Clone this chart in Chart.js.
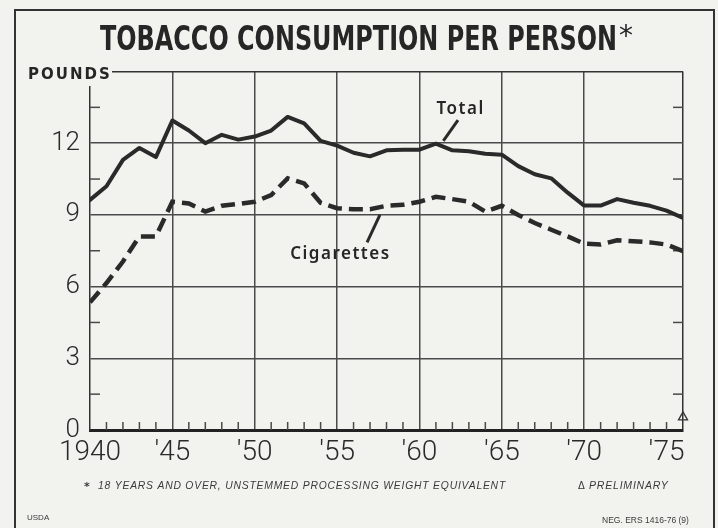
<!DOCTYPE html>
<html><head><meta charset="utf-8">
<script src="https://cdn.jsdelivr.net/npm/chart.js@4.4.1/dist/chart.umd.min.js"></script>
<style>
html,body{margin:0;padding:0;background:#f2f2ee;}
#wrap{position:relative;width:718px;height:528px;overflow:hidden;}
canvas{display:block;}
</style>
</head><body>
<div id="wrap"><canvas id="c" width="718" height="528"></canvas></div>
<script>
// ---- data ----
const years = [1940,1941,1942,1943,1944,1945,1946,1947,1948,1949,1950,1951,1952,1953,1954,1955,1956,1957,1958,1959,1960,1961,1962,1963,1964,1965,1966,1967,1968,1969,1970,1971,1972,1973,1974,1975,1976];
const totalValues = [9.63,10.2,11.3,11.8,11.42,12.95,12.53,12.0,12.35,12.15,12.28,12.53,13.1,12.83,12.1,11.9,11.6,11.45,11.7,11.73,11.73,11.98,11.7,11.66,11.56,11.52,11.04,10.7,10.53,9.93,9.39,9.39,9.66,9.51,9.38,9.18,8.87];
const cigaretteValues = [5.34,6.15,7.05,8.1,8.1,9.55,9.48,9.14,9.38,9.46,9.55,9.83,10.53,10.32,9.51,9.28,9.24,9.24,9.38,9.42,9.55,9.76,9.66,9.55,9.14,9.38,9.0,8.66,8.38,8.1,7.8,7.76,7.94,7.9,7.85,7.76,7.48];
const yTickValues = [0,3,6,9,12];
const xTickYears = [1940,1945,1950,1955,1960,1965,1970,1975];
const xTickText = ['1940',"'45","'50","'55","'60","'65","'70","'75"];
const seriesNames = ['Total','Cigarettes'];
const titleText = 'TOBACCO CONSUMPTION PER PERSON';
const unitText = 'POUNDS';
const footnoteText = '18 YEARS AND OVER, UNSTEMMED PROCESSING WEIGHT EQUIVALENT';
const prelimText = 'PRELIMINARY';
const sourceText = 'USDA';
const negText = 'NEG. ERS 1416-76 (9)';

const INK = '#2a2a2a';
const GRID = '#4a4a4a';
const BG = '#f2f2ee';

const decorPlugin = {
  id: 'decor',
  beforeDraw(chart) {
    const c = chart.ctx;
    c.save();
    c.fillStyle = BG;
    c.fillRect(0, 0, chart.width, chart.height);
    c.restore();
  },
  beforeDatasetsDraw(chart) {
    const c = chart.ctx, xs = chart.scales.x, ys = chart.scales.y, a = chart.chartArea;
    c.save();
    c.strokeStyle = GRID; c.lineWidth = 1.5;
    for (let v = 1.5; v < 15; v += 3) {
      const py = ys.getPixelForValue(v);
      c.beginPath(); c.moveTo(a.left, py); c.lineTo(a.left + 10, py); c.stroke();
      c.beginPath(); c.moveTo(a.right, py); c.lineTo(a.right - 10, py); c.stroke();
    }
    for (let yr = 1941; yr <= 1975; yr++) {
      if (yr % 5 === 0 && yr !== 1975) continue;
      const px = xs.getPixelForValue(yr);
      c.beginPath(); c.moveTo(px, a.bottom); c.lineTo(px, a.bottom - 8); c.stroke();
    }
    c.restore();
  },
  afterDraw(chart) {
    const c = chart.ctx, xs = chart.scales.x, ys = chart.scales.y;
    c.save();
    c.strokeStyle = '#333'; c.lineWidth = 2;
    c.strokeRect(15, 10, 699, 540);
    c.fillStyle = '#262626';
    c.textBaseline = 'alphabetic'; c.textAlign = 'left';
    c.font = 'bold 34px "DejaVu Sans Condensed", "DejaVu Sans"';
    c.fillText(titleText, 100, 50, 517);
    c.font = '28px "DejaVu Sans"';
    c.fillText('*', 619, 45);
    c.fillStyle = BG;
    c.fillRect(18, 62, 94, 24);
    c.fillStyle = '#262626';
    c.font = 'bold 15px "DejaVu Sans"';
    c.letterSpacing = '2px';
    c.textBaseline = 'middle';
    c.fillText(unitText, 28, 75, 84);
    c.letterSpacing = '0px';
    c.font = '600 17px "Noto Sans", "DejaVu Sans"';
    c.letterSpacing = '1.5px';
    c.textAlign = 'center';
    c.fillText(seriesNames[0], xs.getPixelForValue(1962.5), ys.getPixelForValue(13.43));
    c.fillText(seriesNames[1], xs.getPixelForValue(1955.2), ys.getPixelForValue(7.36));
    c.letterSpacing = '0px';
    c.strokeStyle = INK; c.lineWidth = 3; c.lineCap = 'butt';
    c.beginPath();
    c.moveTo(xs.getPixelForValue(1962.34), ys.getPixelForValue(12.97));
    c.lineTo(xs.getPixelForValue(1961.45), ys.getPixelForValue(12.1));
    c.stroke();
    c.beginPath();
    c.moveTo(xs.getPixelForValue(1957.6), ys.getPixelForValue(9.0));
    c.lineTo(xs.getPixelForValue(1956.82), ys.getPixelForValue(7.85));
    c.stroke();
    const tx = xs.getPixelForValue(1976), ty = ys.getPixelForValue(0.55);
    c.lineWidth = 1.3; c.strokeStyle = '#333';
    c.beginPath(); c.moveTo(tx, ty - 5); c.lineTo(tx - 4.5, ty + 3); c.lineTo(tx + 4.5, ty + 3); c.closePath(); c.stroke();
    c.fillStyle = '#3a3a3a';
    c.textAlign = 'left'; c.textBaseline = 'middle';
    c.font = 'bold 11px "DejaVu Sans"';
    c.fillText('*', 84, 487);
    c.font = 'italic 10.5px "Liberation Sans", Arial';
    c.letterSpacing = '0.8px';
    c.fillText(footnoteText, 98, 486, 408);
    c.font = '10px "DejaVu Sans"';
    c.letterSpacing = '0px';
    c.fillText('\u0394', 578, 486);
    c.font = 'italic 10.5px "Liberation Sans", Arial';
    c.letterSpacing = '0.8px';
    c.fillText(prelimText, 589, 486, 88);
    c.letterSpacing = '0px';
    c.font = '8px "Liberation Sans Narrow", "Liberation Sans"';
    c.fillText(sourceText, 27, 518);
    c.font = '8.5px "Liberation Sans Narrow", "Liberation Sans"';
    c.fillText(negText, 602, 521, 103);
    c.restore();
  }
};

const toPoints = vals => years.map((yr, i) => ({ x: yr, y: vals[i] }));

new Chart(document.getElementById('c'), {
  type: 'line',
  data: {
    datasets: [
      { label: seriesNames[0], data: toPoints(totalValues), borderColor: INK, borderWidth: 4,
        pointRadius: 0, tension: 0, borderJoinStyle: 'round', borderCapStyle: 'round', fill: false },
      { label: seriesNames[1], data: toPoints(cigaretteValues), borderColor: INK, borderWidth: 4.5,
        borderDash: [14, 7], pointRadius: 0, tension: 0, borderJoinStyle: 'miter', fill: false }
    ]
  },
  options: {
    responsive: false,
    animation: false,
    devicePixelRatio: 1,
    layout: { padding: { left: 0, top: 71.5, right: 35, bottom: 0 } },
    plugins: { legend: { display: false }, tooltip: { enabled: false }, title: { display: false } },
    scales: {
      x: {
        type: 'linear', min: 1940, max: 1976,
        afterBuildTicks(s) { s.ticks = years.map(v => ({ value: v })); },
        afterFit(s) { s.height = 98; },
        ticks: {
          autoSkip: false, maxRotation: 0, padding: 6, color: '#2a2a2a',
          font: { family: 'Roboto, "Liberation Sans", Arial', size: 28, weight: '300' },
          callback(v) { const i = xTickYears.indexOf(v); return i >= 0 ? xTickText[i] : ''; }
        },
        grid: {
          drawTicks: false, lineWidth: 1.5,
          color(ctx) {
            const v = ctx.tick && ctx.tick.value;
            if (v === 1976) return '#333';
            if (v % 5 === 0 && v !== 1940 && v !== 1975) return GRID;
            return 'rgba(0,0,0,0)';
          }
        },
        border: { display: true, color: '#222', width: 3 }
      },
      y: {
        min: 0, max: 15,
        afterBuildTicks(s) { const t = []; for (let v = 0; v <= 15; v += 1.5) t.push({ value: v }); s.ticks = t; },
        afterFit(s) { s.width = 90; },
        ticks: {
          padding: 10, color: '#2a2a2a',
          font: { family: 'Roboto, "Liberation Sans", Arial', size: 26, weight: '300' },
          callback(v) { return yTickValues.includes(v) ? String(v) : ''; }
        },
        grid: {
          drawTicks: false, lineWidth: 1.5,
          color(ctx) {
            const v = ctx.tick && ctx.tick.value;
            if (v === 15) return '#333';
            if (yTickValues.includes(v) && v > 0) return GRID;
            return 'rgba(0,0,0,0)';
          }
        },
        border: { display: true, color: '#333', width: 1.5 }
      }
    }
  },
  plugins: [decorPlugin]
});
</script>
</body></html>
